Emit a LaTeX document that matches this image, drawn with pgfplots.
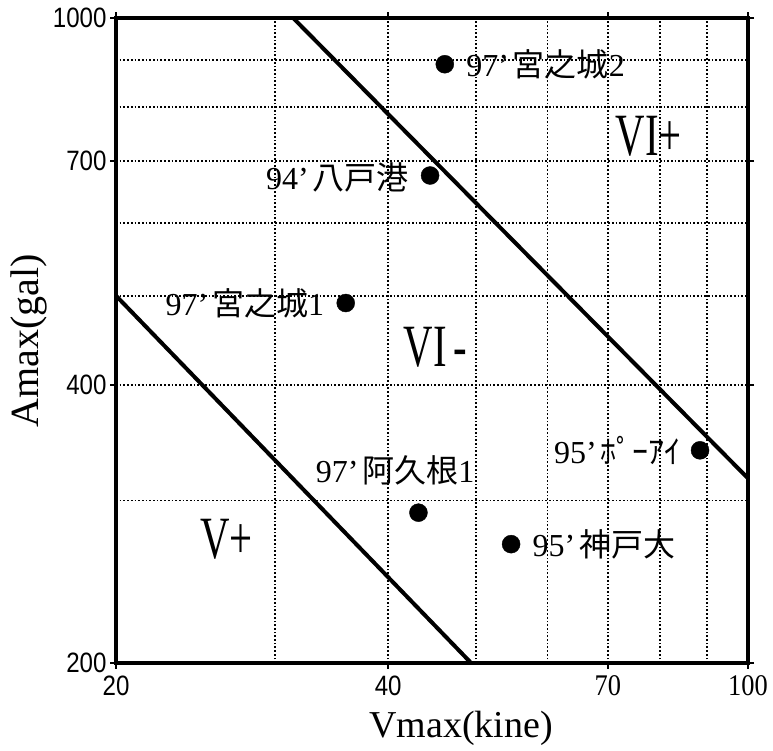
\documentclass[border=0pt]{standalone}
\usepackage{fontspec}
\setmainfont{Liberation Serif}
\newfontfamily\sansf{Liberation Sans}
\newfontfamily\cjk{Noto Sans CJK JP}
\usepackage{graphicx}
\usepackage{pgfplots}
\pgfplotsset{compat=1.18}
\newcommand\lab[3]{{\fontsize{32bp}{36bp}\selectfont #1\hspace{0.12em}{\cjk #2}#3}}
\newcommand\rom[1]{{\fontsize{60bp}{60bp}\selectfont\scalebox{0.68}[1]{#1}}}
\newcommand\tls[1]{{\fontsize{28bp}{28bp}\selectfont\sansf\scalebox{0.86}[1]{#1}}}
\newcommand\tlr[1]{{\fontsize{30bp}{30bp}\selectfont\scalebox{0.88}[1]{#1}}}
\begin{document}
\begin{tikzpicture}
\begin{axis}[
  at={(0,0)}, anchor=south west,
  scale only axis, width=632bp, height=645bp,
  xmode=log, ymode=log,
  xmin=20, xmax=100, ymin=200, ymax=1000,
  xtick={30,40,50,60,70,80,90}, ytick={300,400,500,600,700,800,900},
  xticklabels={}, yticklabels={},
  major tick length=0pt, minor tick length=0pt,
  grid=major,
  major grid style={black, line width=1.8bp, dash pattern=on 1.7bp off 2bp},
  axis line style={line width=3.5bp, black},
  extra x ticks={20,40,70,100},
  extra x tick labels={\tls{20},\tls{40},\tlr{70},\tlr{100}},
  extra y ticks={200,400,700,1000},
  extra y tick labels={\tls{200},\tls{400},\tls{700},\tls{1000}},
  extra tick style={grid=none, major tick length=6bp, tick align=outside, tick style={line width=2bp, black}},
  xticklabel style={yshift=-3bp},
  xlabel={Vmax(kine)},
  xlabel style={at={(rel axis cs:0.546,-0.101)}, anchor=center, font=\fontsize{38bp}{40bp}\selectfont},
  ylabel={Amax(gal)},
  ylabel style={at={(rel axis cs:-0.1377,0.5)}, anchor=center, font=\fontsize{40bp}{42bp}\selectfont},
]
\addplot[black, line width=4bp] coordinates {(31.4,1000) (100,317)};
\addplot[black, line width=4bp] coordinates {(20,500) (49.4,200)};
\addplot[only marks, mark=*, mark size=9bp, black] coordinates {
  (46.2,891) (44.5,675) (35.9,491) (88.5,340) (43.2,291) (54.7,269)};
\node[anchor=west, xshift=18bp] at (axis cs:46.2,891) {\lab{97’}{宮之城}{2}};
\node[anchor=east, xshift=-18bp, yshift=-2bp] at (axis cs:44.5,675) {\lab{94’}{八戸港}{}};
\node[anchor=east, xshift=-18bp] at (axis cs:35.9,491) {\lab{97’}{宮之城}{1}};
\node[anchor=east, xshift=-16bp] at (axis cs:88.5,340) {\lab{95’}{ﾎﾟｰｱｲ}{}};
\node[anchor=center] at (axis cs:40.7,323.7) {\lab{97’}{阿久根}{1}};
\node[anchor=west, xshift=18bp] at (axis cs:54.7,269) {\lab{95’}{神戸大}{}};
\node at (axis cs:77.7,745) {\rom{VI+}};
\node at (axis cs:45.1,440) {\rom{VI\,-}};
\node at (axis cs:26.5,272) {\rom{V+}};
\end{axis}
\pgfresetboundingbox
\path (-116bp,-88bp) rectangle (657bp,663bp);
\end{tikzpicture}
\end{document}
